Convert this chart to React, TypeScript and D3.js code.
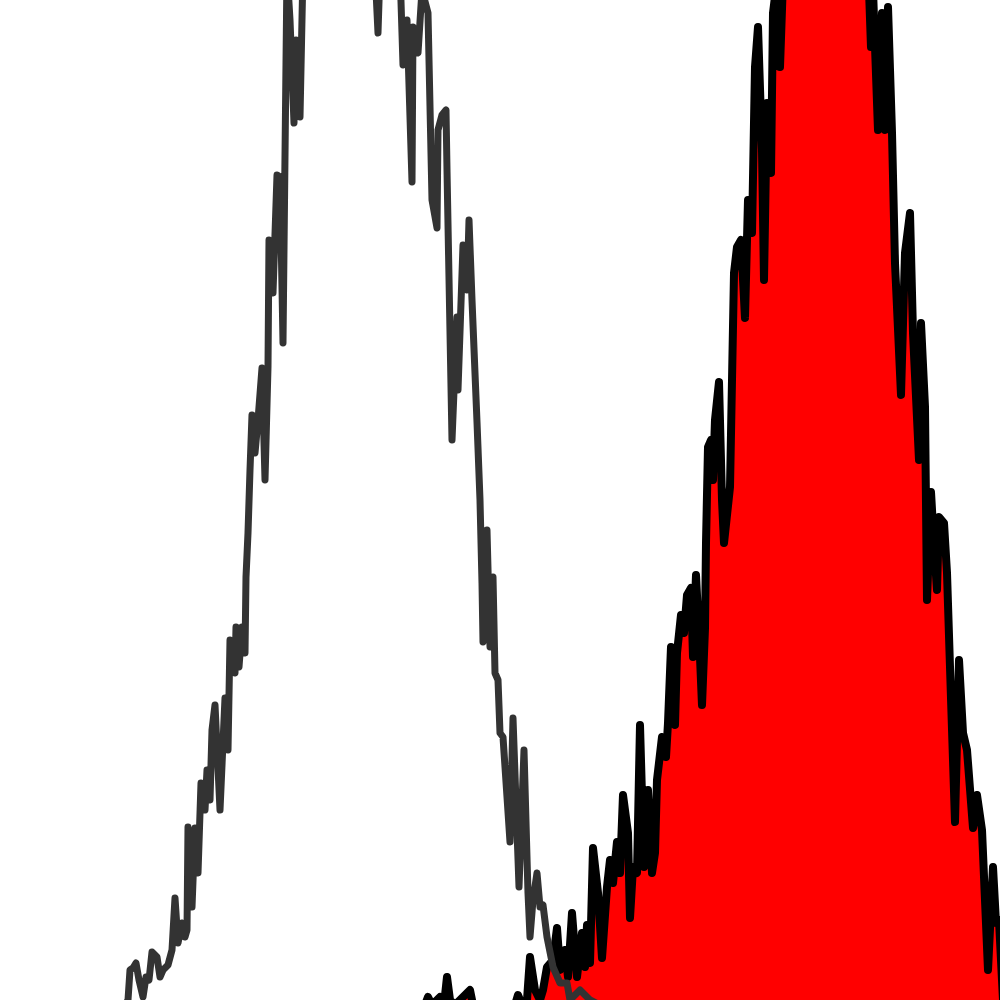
import React from "react";
import * as d3 from "d3";

// Unstained / control histogram (grey outline)
const grayChannel = [
  125, 128, 130, 133, 136, 139, 143, 146, 149, 152, 157, 160, 163, 168, 172, 175, 178, 182, 185, 187,
  188, 192, 195, 198, 201, 205, 207, 210, 212, 215, 220, 225, 228, 230, 235, 236, 239, 242, 245, 246,
  248, 250, 252, 255, 258, 262, 265, 268, 269, 273, 277, 280, 283, 287, 290, 294, 296, 300, 303, 320,
  340, 360, 375, 378, 380, 400, 403, 407, 412, 413, 418, 422, 428, 432, 437, 438, 442, 446, 447, 452,
  457, 458, 463, 467, 469, 472, 477, 480, 482, 483, 487, 490, 493, 495, 498, 500, 503, 510, 513, 519,
  524, 528, 530, 533, 537, 540, 543, 547, 553, 560, 567, 570, 580, 590, 600,
];
const grayCount = [
  -5, 0, 30, 32, 37, 20, 3, 23, 20, 48, 43, 23, 30, 35, 50, 102, 57, 77, 63, 70,
  173, 93, 172, 127, 217, 190, 230, 200, 270, 295, 190, 302, 250, 360, 327, 373, 333, 373, 347, 423,
  467, 530, 585, 547, 580, 632, 520, 633, 760, 707, 825, 823, 657, 1030, 980, 877, 960, 883, 1030, 1120,
  1160, 1120, 1030, 967, 1030, 1030, 935, 980, 818, 973, 947, 1010, 987, 800, 772, 870, 885, 890, 830, 560,
  683, 610, 755, 710, 780, 700, 578, 500, 417, 358, 470, 353, 423, 327, 320, 267, 263, 158, 282, 113,
  250, 107, 63, 100, 127, 93, 95, 63, 33, 17, 17, 0, 10, 0, -5,
];

// Stained sample histogram (red filled)
const redChannel = [
  425, 428, 432, 440, 444, 447, 450, 455, 470, 473, 515, 518, 522, 527, 530, 535, 540, 543, 547, 553,
  557, 560, 565, 568, 572, 577, 582, 585, 587, 590, 593, 598, 602, 607, 610, 613, 617, 620, 623, 628,
  630, 633, 637, 640, 644, 648, 652, 655, 657, 662, 666, 668, 671, 675, 677, 681, 684, 687, 691, 693,
  696, 700, 702, 705, 706, 708, 711, 713, 715, 719, 722, 724, 730, 734, 737, 741, 745, 748, 752, 755,
  758, 762, 764, 767, 771, 773, 777, 780, 783, 800, 830, 860, 869, 871, 873, 878, 882, 885, 888, 892,
  895, 901, 905, 910, 913, 919, 921, 925, 927, 931, 934, 937, 939, 944, 947, 950, 955, 959, 963, 967,
  973, 977, 982, 988, 993, 996, 999, 1003, 1010,
];
const redCount = [
  -5, 3, -5, 3, -5, 23, 0, -5, 10, -5, -5, 5, -5, 0, 43, 10, 0, 10, 33, 40,
  72, 30, 50, 23, 87, 23, 67, 33, 75, 37, 152, 107, 42, 113, 140, 117, 158, 127, 205, 167,
  82, 133, 127, 275, 133, 210, 127, 147, 220, 263, 243, 277, 353, 275, 347, 385, 367, 405, 412, 343,
  425, 343, 295, 372, 457, 553, 560, 520, 580, 618, 500, 457, 513, 727, 753, 760, 682, 800, 767, 933,
  973, 850, 720, 897, 827, 987, 1020, 933, 1020, 1080, 1120, 1080, 1010, 953, 1010, 870, 987, 870, 993, 867,
  737, 605, 747, 787, 667, 540, 677, 593, 400, 508, 455, 410, 483, 477, 427, 333, 178, 340, 267, 250,
  172, 205, 170, 30, 133, 77, 80, 0, -5,
];

const W = 1000;
const H = 1000;

export default function App() {
  const x = d3.scaleLinear().domain([0, 1000]).range([0, W]);
  const y = d3.scaleLinear().domain([0, 1000]).range([H, 0]);

  const gray = grayChannel.map((c, i) => [c, grayCount[i]] as [number, number]);
  const red = redChannel.map((c, i) => [c, redCount[i]] as [number, number]);

  const line = d3
    .line<[number, number]>()
    .x((d) => x(d[0]))
    .y((d) => y(d[1]));
  const area = d3
    .area<[number, number]>()
    .x((d) => x(d[0]))
    .y0(y(-20))
    .y1((d) => y(d[1]));

  return (
    <svg
      width={W}
      height={H}
      viewBox={`0 0 ${W} ${H}`}
      style={{ position: "absolute", left: 0, top: 0, display: "block", background: "#fff" }}
    >
      <rect x={0} y={0} width={W} height={H} fill="#ffffff" />
      <path d={area(red) || ""} fill="#ff0000" stroke="none" />
      <path
        d={line(red) || ""}
        fill="none"
        stroke="#000000"
        strokeWidth={8}
        strokeLinejoin="round"
        strokeLinecap="round"
      />
      <path
        d={line(gray) || ""}
        fill="none"
        stroke="#333333"
        strokeWidth={7}
        strokeLinejoin="round"
        strokeLinecap="round"
      />
    </svg>
  );
}
